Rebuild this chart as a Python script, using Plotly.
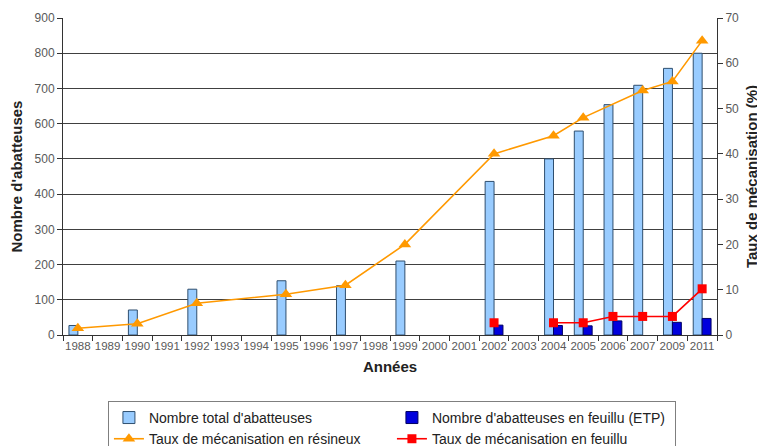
import plotly.graph_objects as go

years = ["1988", "1989", "1990", "1991", "1992", "1993", "1994", "1995", "1996", "1997", "1998",
         "1999", "2000", "2001", "2002", "2003", "2004", "2005", "2006", "2007", "2009", "2011"]
total_abatteuses = [27, None, 71, None, 130, None, None, 154, None, 140, None,
                    210, None, None, 436, None, 500, 579, 654, 709, 757, 800]
abatteuses_feuillu = [None, None, None, None, None, None, None, None, None, None, None,
                      None, None, None, 28, None, 27, 26, 40, None, 36, 47]
taux_resineux = [1.5, None, 2.5, None, 7, None, None, 9, None, 11, None,
                 20, None, None, 40, None, 44, 48, None, 54, 56, 65]
taux_feuillu = [None, None, None, None, None, None, None, None, None, None, None,
                None, None, None, 2.7, None, 2.7, 2.7, 4.1, 4.1, 4.1, 10.2]

fig = go.Figure()
fig.add_trace(go.Bar(x=years, y=total_abatteuses, name="Nombre total d'abatteuses",
                     marker=dict(color="#99CCFF", line=dict(color="#2F4F6F", width=1))))
fig.add_trace(go.Bar(x=years, y=abatteuses_feuillu, name="Nombre d'abatteuses en feuillu (ETP)",
                     marker=dict(color="#0000DD", line=dict(color="#000060", width=1))))
fig.add_trace(go.Scatter(x=years, y=taux_resineux, name="Taux de mécanisation en résineux",
                         yaxis="y2", mode="lines+markers", connectgaps=True,
                         line=dict(color="#FF9900", width=1.6),
                         marker=dict(symbol="triangle-up", size=11, color="#FF9900")))
fig.add_trace(go.Scatter(x=years, y=taux_feuillu, name="Taux de mécanisation en feuillu",
                         yaxis="y2", mode="lines+markers", connectgaps=False,
                         line=dict(color="#FF0000", width=1.6),
                         marker=dict(symbol="square", size=9, color="#FF0000")))

tickfont = dict(family="Arial, Liberation Sans", size=12, color="#595959")
xtickfont = dict(family="Arial, Liberation Sans", size=11.5, color="#595959")
titlefont = dict(family="Arial, Liberation Sans", size=15, color="#222222")
axcol = "#333333"
xrange = [-0.5, len(years) - 0.5]

# the page body adds an 8px offset; the figure is sized so the plot lands where the reference has it
fig.update_layout(
    width=757, height=438,
    margin=dict(l=55, r=48, t=10, b=111, autoexpand=False),
    paper_bgcolor="white", plot_bgcolor="white",
    barmode="group", bargap=0.4, bargroupgap=0,
    font=dict(family="Arial, Liberation Sans", color="#222222"),
    xaxis=dict(type="category", categoryorder="array", categoryarray=years, range=xrange,
               tickangle=0, tickfont=xtickfont, automargin=False,
               ticks="outside", tickson="boundaries", ticklen=5, tickcolor=axcol,
               showline=True, linecolor=axcol, linewidth=1, showgrid=False,
               title=dict(text="<b>Années</b>", font=titlefont, standoff=10)),
    yaxis=dict(range=[0, 900], dtick=100, tickfont=tickfont, automargin=False,
               ticks="outside", ticklen=5, tickcolor=axcol,
               showline=True, linecolor=axcol, linewidth=1,
               showgrid=True, gridcolor="#404040", gridwidth=1, zeroline=False,
               title=dict(text="<b>Nombre d'abatteuses</b>", font=titlefont, standoff=10)),
    yaxis2=dict(range=[0, 70], dtick=10, overlaying="y", side="right", tickfont=tickfont,
                automargin=False, ticks="outside", ticklen=5, tickcolor=axcol,
                showline=True, linecolor=axcol, linewidth=1,
                showgrid=False, zeroline=False,
                title=dict(text="<b>Taux de mécanisation (%)</b>", font=titlefont, standoff=8)),
    # inner halves of the crossing tick marks
    xaxis2=dict(overlaying="x", anchor="y", side="bottom", range=xrange,
                tick0=-0.5, dtick=1, ticks="inside", ticklen=5, tickcolor=axcol,
                showticklabels=False, showgrid=False, zeroline=False, showline=False,
                automargin=False),
    yaxis3=dict(overlaying="y", anchor="x", side="left", range=[0, 900], dtick=100,
                ticks="inside", ticklen=5, tickcolor=axcol, showticklabels=False,
                showgrid=False, zeroline=False, showline=False, automargin=False),
    yaxis4=dict(overlaying="y", anchor="x", side="right", range=[0, 70], dtick=10,
                ticks="inside", ticklen=5, tickcolor=axcol, showticklabels=False,
                showgrid=False, zeroline=False, showline=False, automargin=False),
    legend=dict(orientation="h", x=0.0687, xanchor="left", y=-0.208, yanchor="top",
                entrywidth=238, entrywidthmode="pixels",
                bordercolor="#7f7f7f", borderwidth=1, bgcolor="white",
                font=dict(family="Arial, Liberation Sans", size=14, color="#222222"),
                traceorder="normal", tracegroupgap=0),
)

fig.write_html("out.html")
